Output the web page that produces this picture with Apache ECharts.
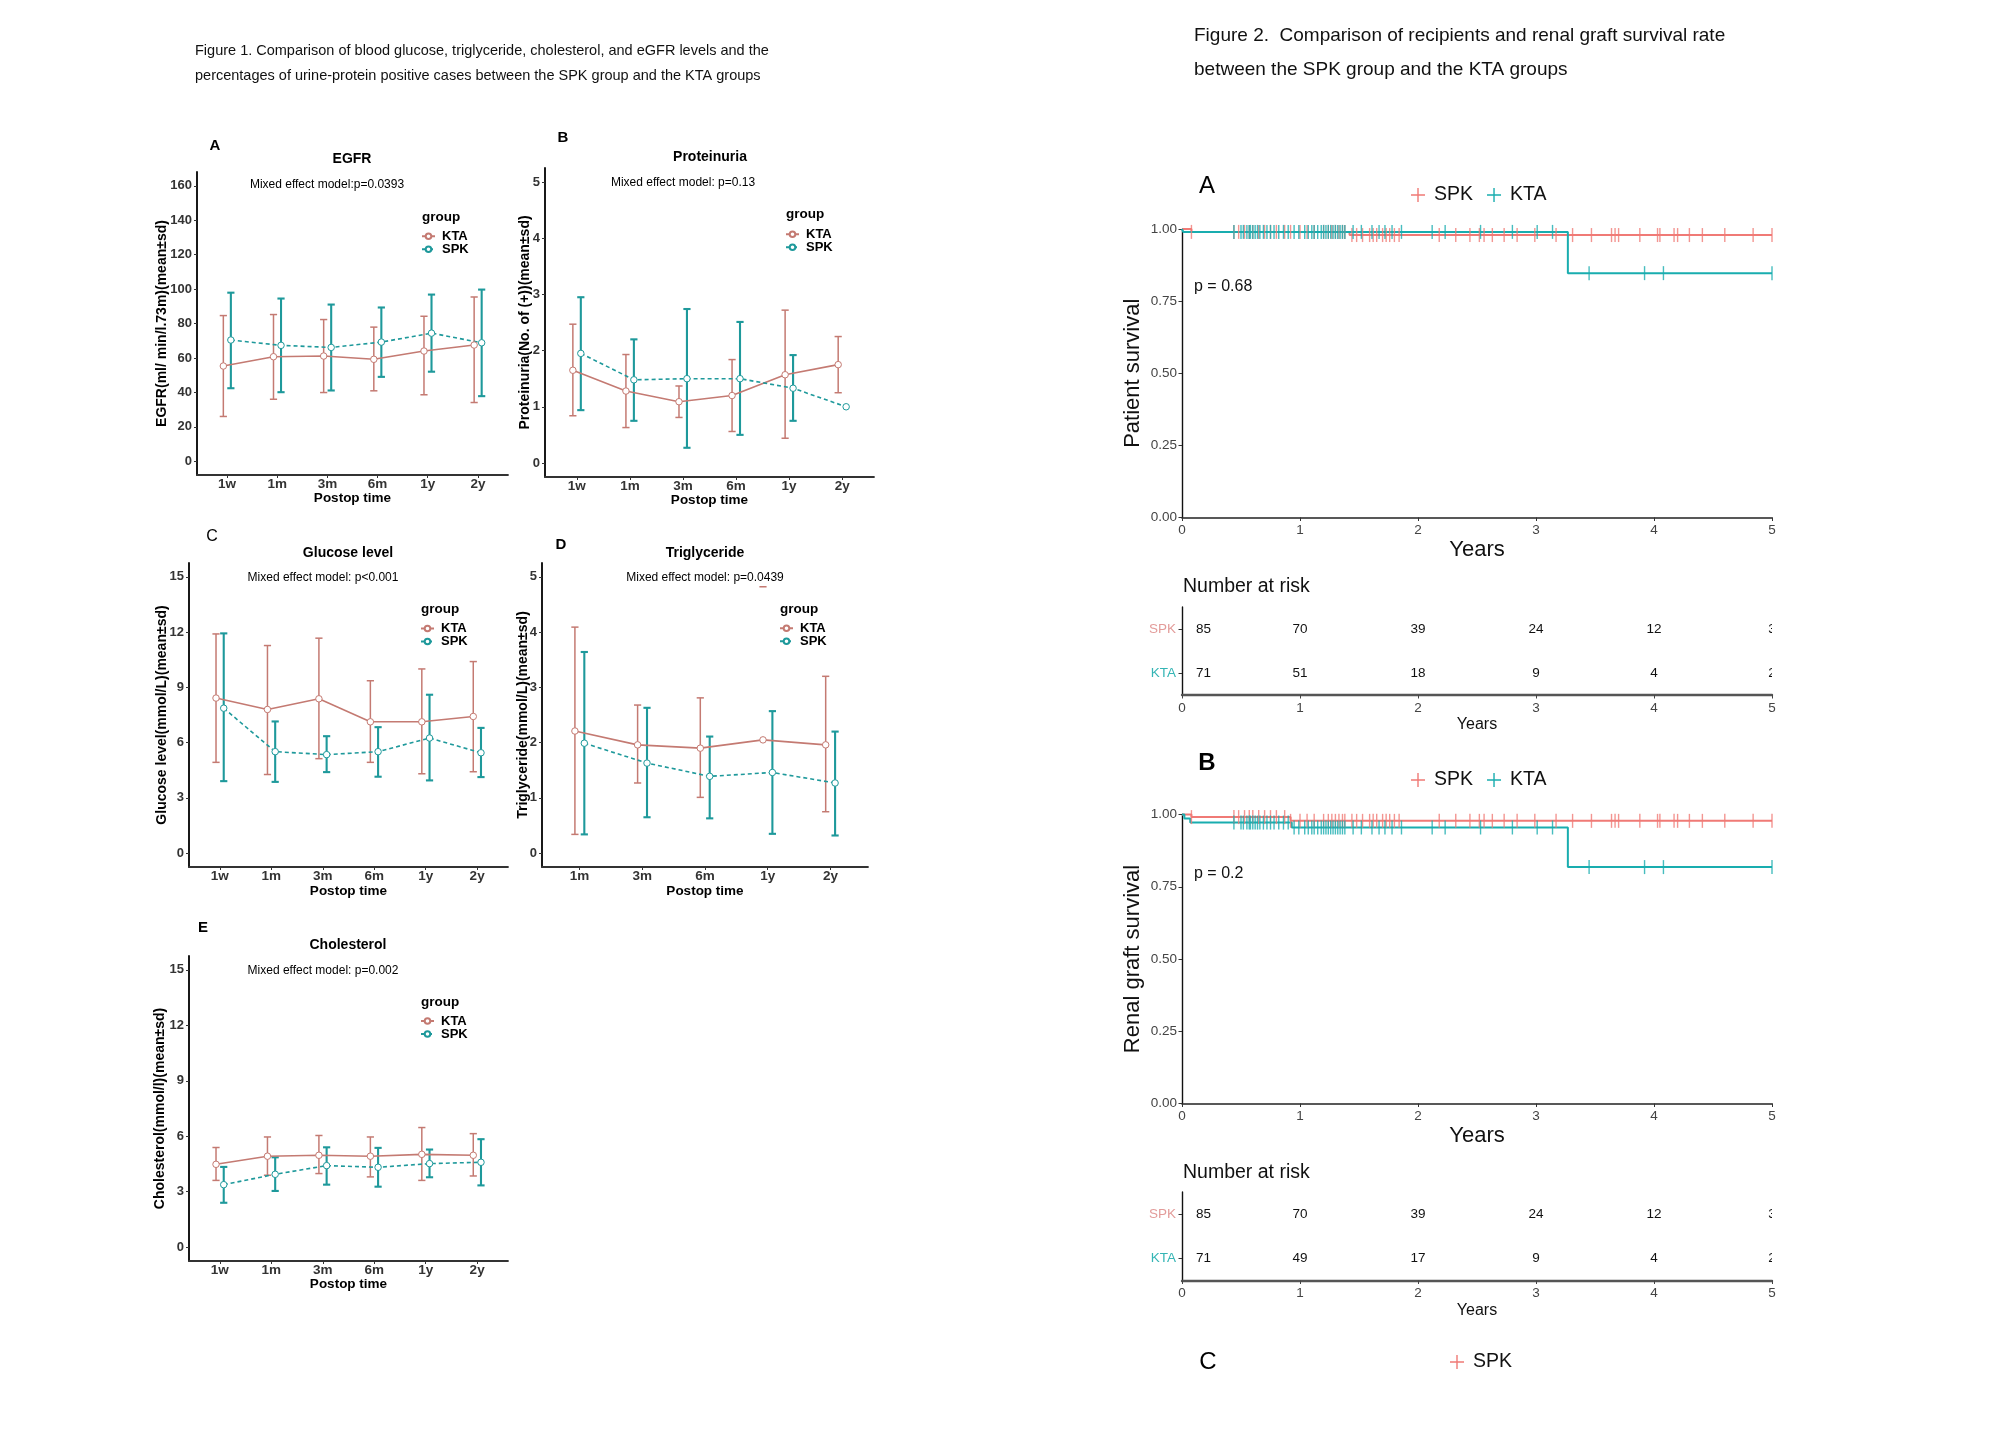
<!DOCTYPE html>
<html><head><meta charset="utf-8">
<script src="https://cdn.jsdelivr.net/npm/echarts@6/dist/echarts.min.js"></script>
<style>html,body{margin:0;padding:0;background:#fff}#c{width:2014px;height:1444px}</style>
</head><body><div id="c"></div>
<script>
const FONT = '"Liberation Sans", Arial, Helvetica, sans-serif';

// ---------- Figure 1 data ----------
const timeLabels6 = ['1w', '1m', '3m', '6m', '1y', '2y'];
const timeLabels5 = ['1m', '3m', '6m', '1y', '2y'];
const egfrTicks = [0, 20, 40, 60, 80, 100, 120, 140, 160];
const fiveTicks = [0, 1, 2, 3, 4, 5];
const fifteenTicks = [0, 3, 6, 9, 12, 15];

const egfrKtaMean  = [55.3, 60.7, 61.1, 59.2, 64.0, 67.5];
const egfrKtaUpper = [84.6, 85.2, 82.3, 77.9, 84.2, 95.4];
const egfrKtaLower = [26.0, 36.0, 39.9, 40.9, 38.6, 34.1];
const egfrSpkMean  = [70.4, 67.3, 66.1, 69.2, 74.4, 68.8];
const egfrSpkUpper = [97.9, 94.5, 91.0, 89.3, 96.8, 99.7];
const egfrSpkLower = [42.4, 40.1, 41.1, 49.0, 52.0, 37.8];

const protKtaMean  = [1.65, 1.28, 1.09, 1.20, 1.57, 1.75];
const protKtaUpper = [2.47, 1.93, 1.37, 1.84, 2.72, 2.25];
const protKtaLower = [0.84, 0.63, 0.81, 0.56, 0.44, 1.25];
const protSpkMean  = [1.95, 1.48, 1.50, 1.50, 1.33, 1.00];
const protSpkUpper = [2.95, 2.20, 2.74, 2.51, 1.92, null];
const protSpkLower = [0.94, 0.75, 0.27, 0.50, 0.75, null];

const glucKtaMean  = [8.42, 7.80, 8.38, 7.13, 7.13, 7.42];
const glucKtaUpper = [11.90, 11.27, 11.67, 9.36, 10.00, 10.40];
const glucKtaLower = [4.93, 4.27, 5.13, 4.93, 4.31, 4.42];
const glucSpkMean  = [7.87, 5.51, 5.35, 5.51, 6.25, 5.45];
const glucSpkUpper = [11.93, 7.15, 6.35, 6.84, 8.60, 6.80];
const glucSpkLower = [3.91, 3.87, 4.40, 4.15, 3.95, 4.13];

const trigKtaMean  = [2.21, 1.96, 1.90, 2.05, 1.96];
const trigKtaUpper = [4.09, 2.68, 2.81, 4.82, 3.20];
const trigKtaLower = [0.34, 1.27, 1.01, null, 0.75];
const trigSpkMean  = [1.99, 1.63, 1.39, 1.46, 1.27];
const trigSpkUpper = [3.64, 2.63, 2.11, 2.57, 2.20];
const trigSpkLower = [0.34, 0.65, 0.63, 0.35, 0.32];

const cholKtaMean  = [4.48, 4.92, 4.97, 4.92, 5.02, 4.97];
const cholKtaUpper = [5.39, 5.96, 6.04, 5.96, 6.47, 6.14];
const cholKtaLower = [3.61, 3.89, 3.98, 3.80, 3.61, 3.85];
const cholSpkMean  = [3.38, 3.94, 4.41, 4.32, 4.52, 4.59];
const cholSpkUpper = [4.34, 4.86, 5.40, 5.37, 5.28, 5.84];
const cholSpkLower = [2.40, 3.04, 3.38, 3.27, 3.78, 3.34];

// ---------- Figure 2 data ----------
const yearTicks = [0, 1, 2, 3, 4, 5];
const patientSpkSteps = [[0, 1], [0.08, 0.990], [1.42, 0.979], [5, 0.979]];
const patientKtaSteps = [[0, 1], [0.01, 0.990], [3.27, 0.847], [5, 0.847]];
const graftSpkSteps = [[0, 1], [0.08, 0.991], [0.92, 0.978], [5, 0.978]];
const graftKtaSteps = [[0, 1], [0.02, 0.986], [0.07, 0.972], [0.93, 0.955], [3.27, 0.818], [5, 0.818]];
const spkCensorTimes = [0.08, 0.44, 0.48, 0.53, 0.57, 0.60, 0.65, 0.70, 0.75, 0.80, 0.87, 0.92, 1.00,
  1.06, 1.12, 1.20, 1.24, 1.27, 1.30, 1.33, 1.36, 1.38, 1.44, 1.48, 1.53, 1.59, 1.62, 1.65, 1.70, 1.73,
  1.76, 1.80, 1.84, 2.18, 2.32, 2.44, 2.52, 2.56, 2.63, 2.73, 2.84, 2.99, 3.17, 3.31, 3.47, 3.64, 3.67,
  3.70, 3.88, 4.03, 4.05, 4.17, 4.20, 4.30, 4.41, 4.60, 4.84, 5.00];
const ktaCensorTimes = [0.44, 0.50, 0.52, 0.55, 0.57, 0.58, 0.60, 0.62, 0.64, 0.66, 0.69, 0.72, 0.75,
  0.78, 0.82, 0.86, 0.90, 0.95, 0.99, 1.04, 1.07, 1.10, 1.12, 1.15, 1.18, 1.20, 1.22, 1.24, 1.26, 1.28,
  1.30, 1.32, 1.34, 1.36, 1.38, 1.45, 1.52, 1.61, 1.67, 1.72, 1.78, 1.86, 2.12, 2.23, 2.53, 2.80, 3.01,
  3.14, 3.45, 3.92, 4.08, 5.00];
const riskTimes = [0, 1, 2, 3, 4, 5];
const riskGroups = ['SPK', 'KTA'];
const patientSpkRisk = [85, 70, 39, 24, 12, 3];
const patientKtaRisk = [71, 51, 18, 9, 4, 2];
const graftSpkRisk = [85, 70, 39, 24, 12, 3];
const graftKtaRisk = [71, 49, 17, 9, 4, 2];

// ---------- styles ----------
const KTA_COL = '#C47A72', SPK_COL = '#1E999B';
const KM_SPK = '#F07A76', KM_KTA = '#19ADAF';
const DODGE = 0.075;
const PLUS = 'path://M6.3,0H7.7V6.3H14V7.7H7.7V14H6.3V7.7H0V6.3H6.3Z';

const fig1 = [
  { cats: timeLabels6, ticks: egfrTicks, yMin: -8, yMax: 168, yName: 'EGFR(ml/ min/l.73m)(mean±sd)', yGap: 28,
    grid: { left: 197, top: 172, width: 311, height: 303 }, xGap: 16,
    kta: [egfrKtaMean, egfrKtaUpper, egfrKtaLower], spk: [egfrSpkMean, egfrSpkUpper, egfrSpkLower],
    letter: ['A', 215, 146, 'bold', 15], title: ['EGFR', 352, 159], mixed: ['Mixed effect model:p=0.0393', 327, 185],
    group: [422, 217], legend: [421, 229.75] },
  { cats: timeLabels6, ticks: fiveTicks, yMin: -0.25, yMax: 5.25, yName: 'Proteinuria(No. of (+))(mean±sd)', yGap: 13,
    grid: { left: 545, top: 168, width: 329, height: 309 }, xGap: 16,
    kta: [protKtaMean, protKtaUpper, protKtaLower], spk: [protSpkMean, protSpkUpper, protSpkLower],
    letter: ['B', 563, 138, 'bold', 15], title: ['Proteinuria', 710, 157], mixed: ['Mixed effect model: p=0.13', 683, 183],
    group: [786, 214], legend: [785, 227.75] },
  { cats: timeLabels6, ticks: fifteenTicks, yMin: -0.75, yMax: 15.75, yName: 'Glucose level(mmol/L)(mean±sd)', yGap: 20,
    grid: { left: 189, top: 563, width: 319, height: 304 }, xGap: 17,
    kta: [glucKtaMean, glucKtaUpper, glucKtaLower], spk: [glucSpkMean, glucSpkUpper, glucSpkLower],
    letter: ['C', 212, 537, 'normal', 16], title: ['Glucose level', 348, 553], mixed: ['Mixed effect model: p<0.001', 323, 578],
    group: [421, 609], legend: [420, 622] },
  { cats: timeLabels5, ticks: fiveTicks, yMin: -0.25, yMax: 5.25, yName: 'Triglyceride(mmol/L)(mean±sd)', yGap: 12,
    grid: { left: 542, top: 563, width: 326, height: 304 }, xGap: 17,
    kta: [trigKtaMean, trigKtaUpper, trigKtaLower], spk: [trigSpkMean, trigSpkUpper, trigSpkLower],
    letter: ['D', 561, 545, 'bold', 15], title: ['Triglyceride', 705, 553], mixed: ['Mixed effect model: p=0.0439', 705, 578],
    group: [780, 609], legend: [779, 621.75] },
  { cats: timeLabels6, ticks: fifteenTicks, yMin: -0.75, yMax: 15.75, yName: 'Cholesterol(mmol/l)(mean±sd)', yGap: 22,
    grid: { left: 189, top: 956, width: 319, height: 305 }, xGap: 16,
    kta: [cholKtaMean, cholKtaUpper, cholKtaLower], spk: [cholSpkMean, cholSpkUpper, cholSpkLower],
    letter: ['E', 203, 928, 'bold', 15], title: ['Cholesterol', 348, 945], mixed: ['Mixed effect model: p=0.002', 323, 971],
    group: [421, 1002], legend: [420, 1014.5] }
];

function errData(hi, lo, off) {
  const out = [];
  hi.forEach((h, i) => { if (h == null) return; out.push([i + off, lo[i] == null ? h : lo[i], h]); });
  return out;
}
function errRender(color, width) {
  return function (params, api) {
    const x = api.value(0);
    const a = api.coord([x, api.value(1)]);
    const b = api.coord([x, api.value(2)]);
    const c = 3.6;
    const st = () => ({ stroke: color, lineWidth: width });
    const ch = [{ type: 'line', shape: { x1: b[0] - c, y1: b[1], x2: b[0] + c, y2: b[1] }, style: st() }];
    if (Math.abs(a[1] - b[1]) > 0.5) {
      ch.push({ type: 'line', shape: { x1: a[0], y1: a[1], x2: b[0], y2: b[1] }, style: st() });
      ch.push({ type: 'line', shape: { x1: a[0] - c, y1: a[1], x2: a[0] + c, y2: a[1] }, style: st() });
    }
    return { type: 'group', children: ch };
  };
}
function survAt(steps, t) {
  let s = steps[0][1];
  steps.forEach(p => { if (p[0] <= t) s = p[1]; });
  return s;
}
function T(x, y, text, size, extra) {
  return { type: 'text', x: x, y: y, silent: true, z: 10,
    style: Object.assign({ text: text, fontSize: size, fontFamily: FONT, fill: '#111',
      textAlign: 'left', textVerticalAlign: 'middle', align: 'left', verticalAlign: 'middle' }, extra || {}) };
}
const C = { textAlign: 'center', align: 'center' };

const grids = [], xAxes = [], yAxes = [], series = [], legends = [], texts = [];

fig1.forEach((p, gi) => {
  grids.push(Object.assign({ outerBoundsMode: 'none', containLabel: false }, p.grid));
  const idx = p.cats.map((_, i) => i);
  xAxes.push({ type: 'value', gridIndex: gi, min: -0.6, max: p.cats.length - 0.4,
    name: 'Postop time', nameLocation: 'middle', nameGap: p.xGap, nameMoveOverlap: false,
    nameTextStyle: { fontFamily: FONT, fontWeight: 'bold', fontSize: 13.5, color: '#000' },
    axisLine: { show: true, onZero: false, lineStyle: { color: '#333', width: 1.8 } },
    axisTick: { show: true, length: 3, customValues: idx, lineStyle: { color: '#333', width: 1 } },
    axisLabel: { customValues: idx, formatter: v => p.cats[Math.round(v)], margin: 2,
      fontFamily: FONT, fontWeight: 'bold', fontSize: 13.5, color: '#333' },
    splitLine: { show: false } });
  yAxes.push({ type: 'value', gridIndex: gi, min: p.yMin, max: p.yMax,
    name: p.yName, nameLocation: 'middle', nameGap: p.yGap, nameMoveOverlap: false,
    nameTextStyle: { fontFamily: FONT, fontWeight: 'bold', fontSize: 14, color: '#000' },
    axisLine: { show: true, onZero: false, lineStyle: { color: '#000', width: 1.8 } },
    axisTick: { show: true, length: 3, customValues: p.ticks, lineStyle: { color: '#333', width: 1 } },
    axisLabel: { customValues: p.ticks, margin: 5, fontFamily: FONT, fontWeight: 'bold', fontSize: 13, color: '#333' },
    splitLine: { show: false } });
  series.push({ type: 'custom', name: 'KTA error', xAxisIndex: gi, yAxisIndex: gi, silent: true, clip: false, z: 1,
    renderItem: errRender(KTA_COL, 1.5), data: errData(p.kta[1], p.kta[2], -DODGE) });
  series.push({ type: 'custom', name: 'SPK error', xAxisIndex: gi, yAxisIndex: gi, silent: true, clip: false, z: 1,
    renderItem: errRender(SPK_COL, 2.1), data: errData(p.spk[1], p.spk[2], DODGE) });
  series.push({ type: 'line', name: 'KTA', xAxisIndex: gi, yAxisIndex: gi, z: 3,
    data: p.kta[0].map((v, i) => [i - DODGE, v]), symbol: 'circle', symbolSize: 6.5, showSymbol: true,
    lineStyle: { color: KTA_COL, width: 1.6 }, itemStyle: { color: '#fff', borderColor: KTA_COL, borderWidth: 1 } });
  series.push({ type: 'line', name: 'SPK', xAxisIndex: gi, yAxisIndex: gi, z: 3,
    data: p.spk[0].map((v, i) => [i + DODGE, v]), symbol: 'circle', symbolSize: 6.5, showSymbol: true,
    lineStyle: { color: SPK_COL, width: 1.6, type: [4, 3] }, itemStyle: { color: '#fff', borderColor: SPK_COL, borderWidth: 1 } });
  legends.push({ data: ['KTA', 'SPK'], orient: 'vertical', left: p.legend[0], top: p.legend[1], padding: 0,
    itemWidth: 13, itemHeight: 7, itemGap: 0, selectedMode: false,
    textStyle: { fontFamily: FONT, fontWeight: 'bold', fontSize: 13, color: '#000', lineHeight: 12.5, padding: [0, 0, 0, 2] } });
  texts.push(T(p.letter[1], p.letter[2], p.letter[0], p.letter[4], Object.assign({ fontWeight: p.letter[3], fill: '#000' }, C)));
  texts.push(T(p.title[1], p.title[2], p.title[0], 14, Object.assign({ fontWeight: 'bold', fill: '#000' }, C)));
  texts.push(T(p.mixed[1], p.mixed[2], p.mixed[0], 12, Object.assign({ fill: '#000' }, C)));
  texts.push(T(p.group[0], p.group[1], 'group', 13.5, { fontWeight: 'bold', fill: '#000' }));
});

// ---------- Figure 2 ----------
const kmPanels = [
  { grid: { left: 1182, top: 229, width: 590, height: 288.5 }, yName: 'Patient survival', spk: patientSpkSteps, kta: patientKtaSteps,
    table: { left: 1182, top: 607, width: 590, height: 88 }, spkRisk: patientSpkRisk, ktaRisk: patientKtaRisk },
  { grid: { left: 1182, top: 814.5, width: 590, height: 289 }, yName: 'Renal graft survival', spk: graftSpkSteps, kta: graftKtaSteps,
    table: { left: 1182, top: 1192, width: 590, height: 88.5 }, spkRisk: graftSpkRisk, ktaRisk: graftKtaRisk }
];

function riskRender(params, api) {
  const t = api.value(0), row = api.value(1), n = api.value(2);
  const p = api.coord([t, row]);
  const first = t === 0;
  return { type: 'text', x: first ? p[0] + 14 : p[0], y: p[1],
    style: { text: String(n), textAlign: first ? 'left' : 'center', align: first ? 'left' : 'center',
      textVerticalAlign: 'middle', verticalAlign: 'middle', fontSize: 13.5, fontFamily: FONT, fill: '#111' } };
}

kmPanels.forEach((k) => {
  const gi = grids.length;
  grids.push(Object.assign({ outerBoundsMode: 'none', containLabel: false }, k.grid));
  xAxes.push({ type: 'value', gridIndex: gi, min: 0, max: 5, interval: 1,
    name: 'Years', nameLocation: 'middle', nameGap: 21, nameMoveOverlap: false,
    nameTextStyle: { fontFamily: FONT, fontSize: 22, color: '#111' },
    axisLine: { show: true, onZero: false, lineStyle: { color: '#222', width: 1.6 } },
    axisTick: { show: true, length: 3.5, lineStyle: { color: '#333' } },
    axisLabel: { color: '#444', fontSize: 13.5, margin: 6, fontFamily: FONT },
    splitLine: { show: false } });
  yAxes.push({ type: 'value', gridIndex: gi, min: 0, max: 1, interval: 0.25,
    name: k.yName, nameLocation: 'middle', nameGap: 38, nameMoveOverlap: false,
    nameTextStyle: { fontFamily: FONT, fontSize: 22, color: '#111' },
    axisLine: { show: true, onZero: false, lineStyle: { color: '#111', width: 1.4 } },
    axisTick: { show: true, length: 3.5, lineStyle: { color: '#333' } },
    axisLabel: { color: '#444', fontSize: 13.5, margin: 5, fontFamily: FONT, formatter: v => v.toFixed(2) },
    splitLine: { show: false } });
  series.push({ type: 'line', name: 'km-SPK', xAxisIndex: gi, yAxisIndex: gi, data: k.spk, step: 'end',
    symbol: 'none', showSymbol: false, clip: false, z: 2, lineStyle: { color: KM_SPK, width: 2 }, itemStyle: { color: KM_SPK } });
  series.push({ type: 'line', name: 'km-KTA', xAxisIndex: gi, yAxisIndex: gi, data: k.kta, step: 'end',
    symbol: 'none', showSymbol: false, clip: false, z: 2, lineStyle: { color: KM_KTA, width: 2 }, itemStyle: { color: KM_KTA } });
  series.push({ type: 'scatter', name: 'km-SPK', xAxisIndex: gi, yAxisIndex: gi, silent: true, clip: false, z: 4,
    data: spkCensorTimes.map(t => [t, survAt(k.spk, t)]), symbol: 'rect', symbolSize: [1.4, 14], itemStyle: { color: KM_SPK } });
  series.push({ type: 'scatter', name: 'km-KTA', xAxisIndex: gi, yAxisIndex: gi, silent: true, clip: false, z: 5,
    data: ktaCensorTimes.map(t => [t, survAt(k.kta, t)]), symbol: 'rect', symbolSize: [1.4, 14], itemStyle: { color: KM_KTA } });

  const ti = grids.length;
  grids.push(Object.assign({ outerBoundsMode: 'none', containLabel: false }, k.table));
  xAxes.push({ type: 'value', gridIndex: ti, min: 0, max: 5, interval: 1,
    name: 'Years', nameLocation: 'middle', nameGap: 22, nameMoveOverlap: false,
    nameTextStyle: { fontFamily: FONT, fontSize: 16, color: '#111' },
    axisLine: { show: true, onZero: false, lineStyle: { color: '#555', width: 2.4 } },
    axisTick: { show: true, length: 3.5, lineStyle: { color: '#444' } },
    axisLabel: { color: '#444', fontSize: 13.5, margin: 6, fontFamily: FONT },
    splitLine: { show: false } });
  yAxes.push({ type: 'category', gridIndex: ti, data: riskGroups, inverse: true,
    axisLine: { show: true, onZero: false, lineStyle: { color: '#111', width: 1.4 } },
    axisTick: { show: true, alignWithLabel: true, length: 3.5, lineStyle: { color: '#333' } },
    axisLabel: { margin: 6, formatter: v => '{' + v + '|' + v + '}',
      rich: { SPK: { color: '#E39C9A', fontSize: 13.5, fontFamily: FONT }, KTA: { color: '#35B5B5', fontSize: 13.5, fontFamily: FONT } } },
    splitLine: { show: false } });
  const rows = [];
  riskTimes.forEach((t, i) => { rows.push([t, 0, k.spkRisk[i]]); rows.push([t, 1, k.ktaRisk[i]]); });
  series.push({ type: 'custom', name: 'risk', xAxisIndex: ti, yAxisIndex: ti, silent: true, clip: true,
    renderItem: riskRender, data: rows, encode: { x: 0, y: 1 } });
});

const kmLegend = (data, left, top) => ({ data: data, left: left, top: top, padding: 0, orient: 'horizontal',
  icon: PLUS, itemWidth: 14, itemHeight: 14, itemGap: 14, selectedMode: false,
  formatter: n => n.replace('km-', ''),
  textStyle: { fontFamily: FONT, fontSize: 19.5, color: '#111', lineHeight: 20, padding: [0, 0, 0, 4] } });
legends.push(kmLegend(['km-SPK', 'km-KTA'], 1411, 185));
legends.push(kmLegend(['km-SPK', 'km-KTA'], 1411, 770));
legends.push(kmLegend(['km-SPK'], 1450, 1352));

texts.push(T(195, 51, 'Figure 1. Comparison of blood glucose, triglyceride, cholesterol, and eGFR levels and the', 14.5));
texts.push(T(195, 76, 'percentages of urine-protein positive cases between the SPK group and the KTA groups', 14.5));
texts.push(T(1194, 36, 'Figure 2.  Comparison of recipients and renal graft survival rate', 19));
texts.push(T(1194, 70, 'between the SPK group and the KTA groups', 19));
texts.push(T(1207, 186, 'A', 24, Object.assign({ fill: '#000' }, C)));
texts.push(T(1207, 763, 'B', 24, Object.assign({ fill: '#000', fontWeight: 'bold' }, C)));
texts.push(T(1208, 1362, 'C', 24, Object.assign({ fill: '#000' }, C)));
texts.push(T(1194, 287, 'p = 0.68', 16));
texts.push(T(1194, 874, 'p = 0.2', 16));
texts.push(T(1183, 587, 'Number at risk', 19.5));
texts.push(T(1183, 1173, 'Number at risk', 19.5));

const chart = echarts.init(document.getElementById('c'), null, { renderer: 'canvas' });
chart.setOption({
  backgroundColor: '#fff',
  animation: false,
  grid: grids, xAxis: xAxes, yAxis: yAxes, series: series, legend: legends,
  graphic: { elements: texts }
});
</script></body></html>
